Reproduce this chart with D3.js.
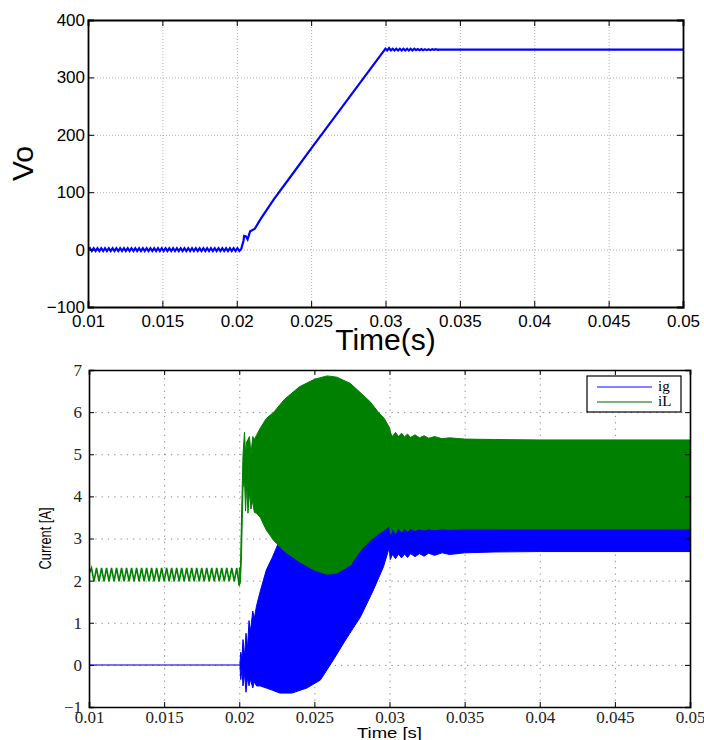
<!DOCTYPE html>
<html>
<head>
<meta charset="utf-8">
<script src="https://cdn.jsdelivr.net/npm/d3@7"></script>
<style>
  body { margin: 0; background: #fff; }
  .grid line { stroke: #b0b0b0; stroke-dasharray: 1,2; }
  .grid2 line { stroke: #8c8c8c; stroke-dasharray: 1.3,5; }
</style>
</head>
<body>
<div id="chart"></div>
<script>
//---------------- data ----------------
//x tick labels, shared by both panels
var xTicks = [0.01, 0.015, 0.02, 0.025, 0.03, 0.035, 0.04, 0.045, 0.05];
var voTicks = [-100, 0, 100, 200, 300, 400];
var curTicks = [-1, 0, 1, 2, 3, 4, 5, 6, 7];

//Vo: small ripple around 0 between 0.01 and 0.0203 s
var voRippleSpan = [0.01, 0.0203];
var voRipple = [0,2.5,-2.5,2.5,-2.5,2.5,-2.5,2.5,-2.5,2.5,-2.5,2.5,-2.5,2.5,-2.5,2.5,-2.5,2.5,-2.5,2.5,-2.5,
  2.5,-2.5,2.5,-2.5,2.5,-2.5,2.5,-2.5,2.5,-2.5,2.5,-2.5,2.5,-2.5,2.5,-2.5,2.5,-2.5,2.5,-2.5,
  2.5,-2.5,2.5,-2.5,2.5,-2.5,2.5,-2.5,2.5,-2.5,2.5,-2.5,2.5,-2.5,2.5,-2.5,2.5,-2.5,2.5,-2.5,
  2.5,-2.5,2.5,-2.5,2.5,-2.5,2.5,-2.5,2.5,-2.5,2.5,-2.5,2.5,-2.5,2.5,-2.5,2.5,-2.5,2.5,-2.5,1];
//Vo: ramp
var voTime = [0.0203, 0.02045, 0.0205, 0.02062, 0.02073, 0.0209, 0.0212, 0.0213, 0.0216, 0.0225, 0.0235, 0.025, 0.0275, 0.03];
var voVal  = [1, 15, 24, 23, 18, 32, 36, 40, 53, 88, 123, 176, 263, 350];
//Vo: settling ripple after 0.03 s, then flat
var voRipple2Span = [0.03, 0.0335];
var voRipple2 = [350,347,351,347,350,347,350,347,350,347,350,347,350,347,350,347,350,347.5,349.5,347.5,349.5,347.5,349,347.5,349,347.5,349,348,349,348];
var voTail = [[0.0335, 348.4], [0.05, 348.4]];

//ig (blue): flat 0 before the start
var igFlat = [[0.01, 0], [0.02005, 0]];
//ig envelope after start: time, upper, lower
var igEnvTime = [0.02005, 0.0201, 0.02018, 0.02025, 0.02035, 0.02045, 0.02055, 0.02065, 0.02075, 0.0209, 0.021, 0.02115, 0.0214, 0.0218, 0.0222, 0.0227, 0.0235, 0.0245, 0.0254, 0.02627, 0.027, 0.02807, 0.02893, 0.0296, 0.02998,
  0.03005, 0.0302, 0.0304, 0.0306, 0.0308, 0.031, 0.0312, 0.0314, 0.0317, 0.032, 0.0323, 0.0326, 0.033, 0.0335, 0.034, 0.035, 0.037, 0.04, 0.05];
var igEnvHi = [0.05, 0.3, 0.15, 0.6, 0.2, 0.75, 0.4, 1.05, 0.8, 1.28, 1.1, 1.4, 1.75, 2.25, 2.55, 2.97, 3.6, 4.2, 4.5, 4.7, 4.8, 4.9, 5.0, 5.1, 5.2,
  4.6, 4.5, 4.5, 4.5, 4.5, 4.5, 4.5, 4.5, 4.5, 4.5, 4.5, 4.5, 4.5, 4.5, 4.5, 4.5, 4.5, 4.5, 4.5];
var igEnvLo = [-0.05, -0.35, -0.1, -0.5, -0.2, -0.65, -0.3, -0.5, -0.35, -0.55, -0.4, -0.5, -0.5, -0.55, -0.6, -0.67, -0.67, -0.55, -0.36, 0.12, 0.55, 1.14, 1.78, 2.33, 2.78,
  2.5, 2.62, 2.52, 2.63, 2.54, 2.63, 2.55, 2.64, 2.57, 2.64, 2.58, 2.65, 2.6, 2.66, 2.62, 2.66, 2.68, 2.69, 2.69];

//iL (green): ripple before the start
var iLRippleSpan = [0.01, 0.02];
var iLRipple = [2.15,2.3,1.98,2.3,1.98,2.3,1.98,2.3,1.98,2.3,1.98,2.3,1.98,2.3,1.98,2.3,1.98,2.3,1.98,2.3,1.98,
  2.3,1.98,2.3,1.98,2.3,1.98,2.3,1.98,2.3,1.98,2.3,1.98,2.3,1.98,2.3,1.98,2.3,1.98,2.3,1.98,
  2.3,1.98,2.3,1.98,2.3,1.98,2.3,1.98,2.3,1.98,2.3,1.98,2.3,1.98,2.3,1.98,2.3,1.98,2.3,1.88];
//iL envelope after start: time, upper, lower
var iLEnvTime = [0.02, 0.02008, 0.02015, 0.02025, 0.02035, 0.02042, 0.0205, 0.02058, 0.02068, 0.02078, 0.0209, 0.021, 0.02115, 0.0214, 0.0218, 0.0223, 0.023, 0.024, 0.025, 0.02585, 0.0265, 0.0274, 0.0281, 0.0287, 0.0293, 0.02965, 0.03,
  0.03008, 0.0302, 0.0304, 0.0306, 0.0308, 0.031, 0.0312, 0.0314, 0.0317, 0.032, 0.0323, 0.0326, 0.033, 0.0335, 0.034, 0.035, 0.037, 0.04, 0.05];
var iLEnvHi = [2.3, 2.3, 3.5, 5.0, 5.52, 5.0, 5.3, 5.35, 5.42, 5.0, 5.42, 5.35, 5.45, 5.62, 5.85, 6.0, 6.3, 6.6, 6.78, 6.86, 6.83, 6.68, 6.45, 6.25, 5.98, 5.85, 5.63,
  5.5, 5.42, 5.52, 5.42, 5.5, 5.41, 5.48, 5.4, 5.46, 5.39, 5.44, 5.38, 5.42, 5.37, 5.39, 5.36, 5.35, 5.34, 5.34];
var iLEnvLo = [1.88, 1.95, 2.6, 4.2, 4.4, 3.65, 4.3, 3.6, 4.1, 3.7, 3.9, 3.62, 3.6, 3.5, 3.2, 2.95, 2.7, 2.45, 2.25, 2.15, 2.18, 2.37, 2.73, 2.95, 3.12, 3.2, 3.3,
  3.1, 3.25, 3.12, 3.25, 3.15, 3.24, 3.17, 3.24, 3.19, 3.23, 3.2, 3.23, 3.21, 3.23, 3.22, 3.23, 3.23, 3.23, 3.23];

var legendNames = ["ig", "iL"];
var legendColors = ["#5a5aff", "#4c9d4c"];

//---------------- svg ----------------
var svg = d3.select("#chart")
  .append("svg")
  .attr("width", 704)
  .attr("height", 740)
  .style("font-family", "'Liberation Sans', Arial, sans-serif");

//setting dimensions of the two panels
var top1 = {left: 88, top: 20, width: 595, height: 287};
var bot1 = {left: 89, top: 370, width: 601, height: 337};

//=============== top panel : Vo ===============
var g1 = svg.append("g")
  .attr("transform", "translate(" + top1.left + "," + top1.top + ")");

var x1 = d3.scaleLinear().domain([0.01, 0.05]).range([0, top1.width]);
var y1 = d3.scaleLinear().domain([-100, 400]).range([top1.height, 0]);

//grid
g1.append("g").attr("class", "grid")
  .attr("transform", "translate(0," + top1.height + ")")
  .call(d3.axisBottom(x1).tickValues(xTicks).tickSize(-top1.height).tickFormat(""))
  .select(".domain").remove();
g1.append("g").attr("class", "grid")
  .call(d3.axisLeft(y1).tickValues(voTicks).tickSize(-top1.width).tickFormat(""))
  .select(".domain").remove();

g1.append("clipPath").attr("id", "clip1")
  .append("rect").attr("width", top1.width).attr("height", top1.height);

var line1 = d3.line()
  .x(function(d) { return x1(d[0]); })
  .y(function(d) { return y1(d[1]); });

//index -> time scales for the ripple pieces
var r1 = d3.scaleLinear().domain([0, voRipple.length - 1]).range(voRippleSpan);
var r2 = d3.scaleLinear().domain([0, voRipple2.length - 1]).range(voRipple2Span);

var voData = voRipple.map(function(v, i) { return [r1(i), v]; })
  .concat(voTime.map(function(t, i) { return [t, voVal[i]]; }))
  .concat(voRipple2.map(function(v, i) { return [r2(i), v]; }))
  .concat(voTail);

g1.append("path")
  .datum(voData)
  .attr("clip-path", "url(#clip1)")
  .attr("fill", "none")
  .attr("stroke", "#0000ff")
  .attr("stroke-width", 2.2)
  .attr("d", line1);

//axes (matlab style: ticks inward on all four sides)
g1.append("g")
  .attr("transform", "translate(0," + top1.height + ")")
  .call(d3.axisBottom(x1).tickValues(xTicks).tickSize(-6).tickPadding(8).tickFormat(d3.format("")));
g1.append("g")
  .call(d3.axisLeft(y1).tickValues(voTicks).tickSize(-6).tickPadding(3).tickFormat(function(d) { return d < 0 ? "\u2212" + Math.abs(d) : d; }));
g1.append("g")
  .call(d3.axisTop(x1).tickValues(xTicks).tickSize(-6).tickFormat(""));
g1.append("g")
  .attr("transform", "translate(" + top1.width + ",0)")
  .call(d3.axisRight(y1).tickValues(voTicks).tickSize(-6).tickFormat(""));
g1.selectAll(".domain").attr("stroke-width", 1.8);
g1.selectAll(".tick text").style("font-size", "17px").style("font-family", "'Liberation Sans', Arial, sans-serif").attr("fill", "#000");

//labels
svg.append("text")
  .attr("transform", "translate(33," + (top1.top + top1.height / 2) + ") rotate(-90)")
  .attr("text-anchor", "middle")
  .style("font-size", "30px")
  .text("Vo");
svg.append("text")
  .attr("x", top1.left + top1.width / 2)
  .attr("y", 350)
  .attr("text-anchor", "middle")
  .style("font-size", "30px")
  .text("Time(s)");

//=============== bottom panel : currents ===============
var g2 = svg.append("g")
  .attr("transform", "translate(" + bot1.left + "," + bot1.top + ")");

var x2 = d3.scaleLinear().domain([0.01, 0.05]).range([0, bot1.width]);
var y2 = d3.scaleLinear().domain([-1, 7]).range([bot1.height, 0]);

g2.append("g").attr("class", "grid2")
  .attr("transform", "translate(0," + bot1.height + ")")
  .call(d3.axisBottom(x2).tickValues(xTicks).tickSize(-bot1.height).tickFormat(""))
  .select(".domain").remove();
g2.append("g").attr("class", "grid2")
  .call(d3.axisLeft(y2).tickValues(curTicks).tickSize(-bot1.width).tickFormat(""))
  .select(".domain").remove();

g2.append("clipPath").attr("id", "clip2")
  .append("rect").attr("width", bot1.width).attr("height", bot1.height);

var plot2 = g2.append("g").attr("clip-path", "url(#clip2)");

var line2 = d3.line()
  .x(function(d) { return x2(d[0]); })
  .y(function(d) { return y2(d[1]); });
var area2 = d3.area()
  .x(function(d) { return x2(d[0]); })
  .y0(function(d) { return y2(d[2]); })
  .y1(function(d) { return y2(d[1]); });

//ig
plot2.append("path")
  .datum(igFlat)
  .attr("fill", "none")
  .attr("stroke", "#0000ff")
  .attr("stroke-opacity", 0.55)
  .attr("stroke-width", 2)
  .attr("d", line2);
plot2.append("path")
  .datum(igEnvTime.map(function(t, i) { return [t, igEnvHi[i], igEnvLo[i]]; }))
  .attr("fill", "#0000ff")
  .attr("stroke", "#0000ff")
  .attr("stroke-width", 1)
  .attr("d", area2);

//iL
var r3 = d3.scaleLinear().domain([0, iLRipple.length - 1]).range(iLRippleSpan);
plot2.append("path")
  .datum(iLRipple.map(function(v, i) { return [r3(i), v]; }))
  .attr("fill", "none")
  .attr("stroke", "#008000")
  .attr("stroke-width", 1.6)
  .attr("d", line2);
plot2.append("path")
  .datum(iLEnvTime.map(function(t, i) { return [t, iLEnvHi[i], iLEnvLo[i]]; }))
  .attr("fill", "#008000")
  .attr("stroke", "#008000")
  .attr("stroke-width", 1)
  .attr("d", area2);

//axes
g2.append("g")
  .attr("transform", "translate(0," + bot1.height + ")")
  .call(d3.axisBottom(x2).tickValues(xTicks).tickSize(-5).tickPadding(4).tickFormat(d3.format("")));
g2.append("g")
  .call(d3.axisLeft(y2).tickValues(curTicks).tickSize(-5).tickPadding(7).tickFormat(function(d) { return d < 0 ? "\u2212" + Math.abs(d) : d; }));
g2.append("g")
  .call(d3.axisTop(x2).tickValues(xTicks).tickSize(-5).tickFormat(""));
g2.append("g")
  .attr("transform", "translate(" + bot1.width + ",0)")
  .call(d3.axisRight(y2).tickValues(curTicks).tickSize(-5).tickFormat(""));
g2.selectAll(".domain").attr("stroke-width", 1.6);
g2.selectAll(".tick text").style("font-size", "17px").style("font-family", "'Liberation Serif', 'Times New Roman', serif").attr("fill", "#222");

//legend
var leg = g2.append("g").attr("transform", "translate(498,6)");
leg.append("rect")
  .attr("width", 94).attr("height", 36)
  .attr("fill", "#fff").attr("stroke", "#000").attr("stroke-width", 1.2);
leg.selectAll(".lg")
  .data(legendNames)
  .enter().append("line")
  .attr("x1", 10).attr("x2", 65)
  .attr("y1", function(d, i) { return 11 + i * 15; })
  .attr("y2", function(d, i) { return 11 + i * 15; })
  .attr("stroke", function(d, i) { return legendColors[i]; })
  .attr("stroke-width", 1.5);
leg.selectAll(".lt")
  .data(legendNames)
  .enter().append("text")
  .attr("x", 71)
  .attr("y", function(d, i) { return 15 + i * 15; })
  .style("font-family", "'Liberation Serif', 'Times New Roman', serif")
  .style("font-size", "15px")
  .text(function(d) { return d; });

//axis titles
svg.append("text")
  .attr("transform", "translate(51," + (bot1.top + bot1.height / 2) + ") rotate(-90)")
  .attr("text-anchor", "middle")
  .attr("textLength", 62)
  .attr("lengthAdjust", "spacingAndGlyphs")
  .style("font-size", "16px")
  .text("Current [A]");
svg.append("text")
  .attr("x", bot1.left + bot1.width / 2)
  .attr("y", 738)
  .attr("text-anchor", "middle")
  .attr("textLength", 65)
  .attr("lengthAdjust", "spacingAndGlyphs")
  .style("font-size", "14px")
  .text("Time [s]");
</script>
</body>
</html>
